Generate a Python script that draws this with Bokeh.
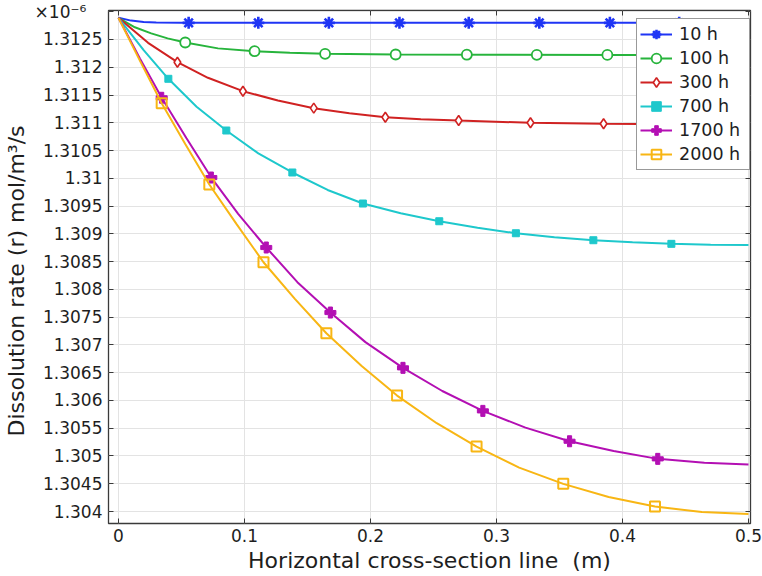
from bokeh.plotting import figure
from bokeh.models import FixedTicker, LinearAxis, Legend, LegendItem, Range1d
from bokeh.embed import file_html
from bokeh.resources import INLINE

x_ticks = [0, 0.1, 0.2, 0.3, 0.4, 0.5]
x_tick_labels = ["0", "0.1", "0.2", "0.3", "0.4", "0.5"]
y_ticks = [1.304, 1.3045, 1.305, 1.3055, 1.306, 1.3065, 1.307, 1.3075, 1.308,
           1.3085, 1.309, 1.3095, 1.31, 1.3105, 1.311, 1.3115, 1.312, 1.3125, 1.313]
y_tick_labels = ["1.304", "1.3045", "1.305", "1.3055", "1.306", "1.3065", "1.307", "1.3075", "1.308",
                 "1.3085", "1.309", "1.3095", "1.31", "1.3105", "1.311", "1.3115", "1.312", "1.3125",
                 "×10⁻⁶\u00a0\u00a0\u00a0"]

names = ["10 h", "100 h", "300 h", "700 h", "1700 h", "2000 h"]

# 10 h
x_10 = [0, 0.01, 0.02, 0.03, 0.05, 0.5]
y_10 = [1.31289, 1.31284, 1.312815, 1.312805, 1.3128, 1.3128]
mx_10 = [0.0557, 0.111, 0.167, 0.223, 0.278, 0.334, 0.39, 0.445]
my_10 = [1.3128, 1.3128, 1.3128, 1.3128, 1.3128, 1.3128, 1.3128, 1.3128]

# 100 h
x_100 = [0, 0.013, 0.026, 0.039, 0.053, 0.079, 0.108, 0.136, 0.164, 0.22, 0.3, 0.4, 0.5]
y_100 = [1.31289, 1.31272, 1.31261, 1.31252, 1.312446, 1.31234, 1.312289, 1.31226, 1.312242,
         1.31223, 1.312225, 1.312222, 1.31222]
mx_100 = [0.053, 0.108, 0.164, 0.22, 0.2765, 0.332, 0.388, 0.444]
my_100 = [1.312446, 1.312289, 1.312242, 1.31223, 1.312226, 1.312224, 1.312222, 1.312221]

# 300 h
x_300 = [0, 0.0235, 0.0468, 0.071, 0.0988, 0.1265, 0.155, 0.1833, 0.2118, 0.24, 0.27, 0.327,
         0.385, 0.442, 0.5]
y_300 = [1.31289, 1.31244, 1.312091, 1.31181, 1.311569, 1.3114, 1.311263, 1.311173, 1.3111,
         1.311065, 1.311041, 1.311, 1.310982, 1.310975, 1.31097]
mx_300 = [0.0468, 0.0988, 0.155, 0.2118, 0.27, 0.327, 0.385, 0.442]
my_300 = [1.312091, 1.311569, 1.311263, 1.3111, 1.311041, 1.311, 1.310982, 1.310975]

# 700 h
x_700 = [0, 0.02, 0.0396, 0.062, 0.0856, 0.111, 0.138, 0.166, 0.194, 0.224, 0.2546, 0.285,
         0.3154, 0.346, 0.3769, 0.408, 0.4388, 0.47, 0.5]
y_700 = [1.31289, 1.31231, 1.311792, 1.31129, 1.310861, 1.31045, 1.310105, 1.30979, 1.309546,
         1.30937, 1.309227, 1.30911, 1.309011, 1.30894, 1.308885, 1.30885, 1.30882, 1.308805, 1.3088]
mx_700 = [0.0396, 0.0856, 0.138, 0.194, 0.2546, 0.3154, 0.3769, 0.4388]
my_700 = [1.311792, 1.310861, 1.310105, 1.309546, 1.309227, 1.309011, 1.308885, 1.30882]

# 1700 h
x_1700 = [0, 0.017, 0.0343, 0.054, 0.0737, 0.095, 0.1173, 0.142, 0.1682, 0.196, 0.2258, 0.257,
          0.2892, 0.323, 0.358, 0.393, 0.428, 0.465, 0.5]
y_1700 = [1.31289, 1.31216, 1.31145, 1.31072, 1.310014, 1.30936, 1.308754, 1.30813, 1.307583,
          1.30705, 1.306587, 1.30617, 1.305812, 1.30551, 1.305265, 1.30509, 1.304948, 1.30488, 1.304845]
mx_1700 = [0.0343, 0.0737, 0.1173, 0.1682, 0.2258, 0.2892, 0.358, 0.428]
my_1700 = [1.31145, 1.310014, 1.308754, 1.307583, 1.306587, 1.305812, 1.305265, 1.304948]

# 2000 h
x_2000 = [0, 0.017, 0.0343, 0.053, 0.0721, 0.0936, 0.1151, 0.14, 0.165, 0.193, 0.2211, 0.2526,
          0.2842, 0.318, 0.353, 0.389, 0.4258, 0.463, 0.5]
y_2000 = [1.31289, 1.31212, 1.311353, 1.31062, 1.309888, 1.30918, 1.308489, 1.30783, 1.30721,
          1.30662, 1.306088, 1.30559, 1.30517, 1.30479, 1.304498, 1.30426, 1.304089, 1.30399, 1.303957]
mx_2000 = [0.0343, 0.0721, 0.1151, 0.165, 0.2211, 0.2842, 0.353, 0.4258]
my_2000 = [1.311353, 1.309888, 1.308489, 1.30721, 1.306088, 1.30517, 1.304498, 1.304089]

FONT = "DejaVu Sans"
TXT = "#1e1e1e"
NB = "\u00a0"

p = figure(width=762, height=576, output_backend="svg", toolbar_location=None,
           x_range=Range1d(-0.0079, 0.5016), y_range=Range1d(1.303784, 1.313022),
           min_border_left=107, min_border_right=12, min_border_top=10, min_border_bottom=53)
p.background_fill_color = "white"
p.border_fill_color = "white"
p.outline_line_color = "#3a3a3a"
p.outline_line_width = 1.3

p.xaxis.ticker = FixedTicker(ticks=x_ticks)
p.yaxis.ticker = FixedTicker(ticks=y_ticks)
p.xaxis.major_label_overrides = dict(zip(x_ticks, x_tick_labels))
p.yaxis.major_label_overrides = dict(zip(y_ticks, y_tick_labels))
p.xgrid.ticker = FixedTicker(ticks=x_ticks)
p.ygrid.ticker = FixedTicker(ticks=y_ticks)
p.grid.grid_line_color = "#e3e3e3"
p.grid.grid_line_width = 1

for ax in (p.xaxis[0], p.yaxis[0]):
    ax.axis_line_color = None
    ax.major_tick_in = 5
    ax.major_tick_out = 0
    ax.minor_tick_line_color = None
    ax.major_tick_line_color = "#3a3a3a"
    ax.major_label_text_font = FONT
    ax.major_label_text_font_size = "17px"
    ax.major_label_text_color = TXT
    ax.axis_label_text_font = FONT
    ax.axis_label_text_font_size = "22px"
    ax.axis_label_text_font_style = "normal"
    ax.axis_label_text_color = TXT

p.xaxis.axis_label = "Horizontal cross-section line" + NB + " (m)"
p.yaxis.axis_label = "Dissolution rate (r) mol/m³/s" + NB * 4
p.xaxis.major_label_standoff = 5
p.xaxis.axis_label_standoff = 3
p.yaxis.major_label_standoff = 6
p.yaxis.axis_label_standoff = 3

top = LinearAxis(ticker=FixedTicker(ticks=x_ticks), major_label_overrides={t: "" for t in x_ticks},
                 major_label_text_font_size="1px",
                 major_label_standoff=0, axis_line_color=None, major_tick_in=5, major_tick_out=0,
                 minor_tick_line_color=None, major_tick_line_color="#3a3a3a")
right = LinearAxis(ticker=FixedTicker(ticks=y_ticks), major_label_overrides={t: "" for t in y_ticks},
                   major_label_text_font_size="1px",
                   major_label_standoff=0, axis_line_color=None, major_tick_in=5, major_tick_out=0,
                   minor_tick_line_color=None, major_tick_line_color="#3a3a3a")
p.add_layout(top, "above")
p.add_layout(right, "right")

series = [
    (x_10, y_10, mx_10, my_10, "#1f35f5", dict(marker="asterisk", size=12, line_width=2.6, fill_color=None)),
    (x_100, y_100, mx_100, my_100, "#27b43c", dict(marker="circle", size=10, line_width=1.8, fill_color="white")),
    (x_300, y_300, mx_300, my_300, "#d02222", dict(marker="diamond", size=10, line_width=1.6, fill_color="white")),
    (x_700, y_700, mx_700, my_700, "#1ec8cc", dict(marker="square", size=7, line_width=1, fill_color="#1ec8cc")),
    (x_1700, y_1700, mx_1700, my_1700, "#b30fb3", dict(marker="plus", size=11, line_width=1, fill_color="#b30fb3")),
    (x_2000, y_2000, mx_2000, my_2000, "#f8b614", dict(marker="square", size=10, line_width=2, fill_color=None)),
]

items = []
for name, (xs, ys, mxs, mys, col, mk) in zip(names, series):
    ln = p.line(xs, ys, line_color=col, line_width=2)
    sc = p.scatter(mxs, mys, line_color=col, **mk)
    items.append(LegendItem(label=name, renderers=[ln, sc]))

legend = Legend(items=items, location=(528, 353))
legend.label_text_font = FONT
legend.label_text_font_size = "17.5px"
legend.label_text_color = TXT
legend.glyph_width = 32
legend.glyph_height = 24
legend.label_height = 24
legend.label_width = 67
legend.label_standoff = 7
legend.spacing = 0
legend.padding = 3
legend.margin = 0
legend.border_line_color = "#333333"
legend.border_line_width = 1.5
legend.background_fill_color = "white"
legend.background_fill_alpha = 1
p.add_layout(legend)

open("out.html", "w").write(file_html(p, INLINE))
